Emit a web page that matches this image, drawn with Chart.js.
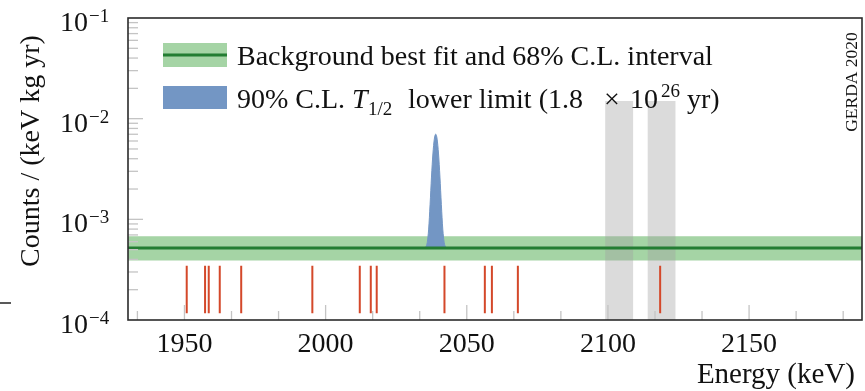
<!DOCTYPE html>
<html>
<head>
<meta charset="utf-8">
<script src="https://cdn.jsdelivr.net/npm/chart.js"></script>
<style>
  html, body { margin: 0; padding: 0; background: #fff; }
  #wrap { width: 865px; height: 391px; position: relative; }
</style>
</head>
<body>
<div id="wrap"><canvas id="chart"></canvas></div>
<script>
// axis ranges and tick labels
const xMin = 1930, xMax = 2190;
const yMin = 1e-4, yMax = 1e-1;
const xTickLabels = [1950, 2000, 2050, 2100, 2150];
const yTickValues = [1e-4, 1e-3, 1e-2, 1e-1];
const yTickExps = ["\u22124", "\u22123", "\u22122", "\u22121"];

// background best fit and 68% interval
const bgBest = 5.2e-4;
const bgBand = [3.9e-4, 6.8e-4];

// 90% C.L. signal on top of background
const peakEnergy = [2035, 2035.5, 2036, 2036.5, 2037, 2037.5, 2038, 2038.5, 2039,
  2039.5, 2040, 2040.5, 2041, 2041.5, 2042, 2042.5, 2043];
const peakCounts = [5.2e-4, 5.34e-4, 5.9e-4, 8.0e-4, 1.4e-3, 2.63e-3, 4.46e-3, 6.26e-3, 7.02e-3,
  6.26e-3, 4.46e-3, 2.63e-3, 1.4e-3, 8.0e-4, 5.9e-4, 5.34e-4, 5.2e-4];

// observed events (energies in keV)
const events = [1950.8, 1957.3, 1958.6, 1962.5, 1970.1, 1995.3, 2012.1, 2016.0,
  2018.1, 2042.1, 2056.4, 2058.9, 2068.1, 2118.5];
const eventLow = 1.17e-4, eventHigh = 3.45e-4;

// excluded windows
const excluded = [[2099, 2109], [2114, 2124]];
const excludedTop = 1.5e-2;

const serif = "'Liberation Serif', 'Times New Roman', serif";
const green = "rgb(35,125,50)";
const bandColor = "rgba(76,170,76,0.5)";
const blue = "rgb(115,150,196)";
const red = "rgb(212,72,42)";
const gray = "rgba(160,160,160,0.38)";

// event segments, separated by gaps
const eventPts = [];
events.forEach((e) => {
  eventPts.push({ x: e, y: eventLow }, { x: e, y: eventHigh }, { x: e, y: null });
});

const datasets = [
  {
    data: eventPts,
    borderColor: red,
    borderWidth: 2,
    pointRadius: 0,
    fill: false,
    spanGaps: false,
  },
  {
    data: [{ x: xMin, y: bgBest }, { x: xMax, y: bgBest }],
    borderColor: green,
    borderWidth: 3,
    pointRadius: 0,
    fill: false,
  },
  {
    data: peakEnergy.map((e, i) => ({ x: e, y: peakCounts[i] })),
    borderColor: blue,
    borderWidth: 1,
    backgroundColor: blue,
    pointRadius: 0,
    cubicInterpolationMode: "monotone",
    fill: { value: bgBest },
  },
];
excluded.forEach((w) => {
  datasets.push({
    data: [{ x: w[0], y: excludedTop }, { x: w[1], y: excludedTop }],
    borderWidth: 0,
    borderColor: "rgba(0,0,0,0)",
    backgroundColor: gray,
    pointRadius: 0,
    fill: { value: yMin },
  });
});
datasets.push({
  data: [{ x: xMin, y: bgBand[1] }, { x: xMax, y: bgBand[1] }],
  borderWidth: 0,
  borderColor: "rgba(0,0,0,0)",
  backgroundColor: bandColor,
  pointRadius: 0,
  fill: { value: bgBand[0] },
});

// frame, inner ticks and all the extra text
const decor = {
  id: "decor",
  afterDraw(chart) {
    const { ctx, chartArea: a } = chart;
    const x = chart.scales.x, y = chart.scales.y;
    ctx.save();

    // inner ticks
    ctx.strokeStyle = "#c4c4c4";
    ctx.lineWidth = 1.3;
    for (let k = -1; k <= 14; k++) {
      const v = xTickLabels[0] + (k * 50) / 3;
      if (v <= xMin || v >= xMax) continue;
      const px = x.getPixelForValue(v);
      const len = k % 3 === 0 ? 15 : 9;
      ctx.beginPath();
      ctx.moveTo(px, a.bottom);
      ctx.lineTo(px, a.bottom - len);
      ctx.stroke();
    }
    for (let d = 1e-4; d < yMax; d *= 10) {
      for (let m = 1; m <= 9; m++) {
        const v = d * m;
        if (v <= yMin || v >= yMax) continue;
        const py = y.getPixelForValue(v);
        const len = m === 1 ? 15 : 10;
        ctx.beginPath();
        ctx.moveTo(a.left, py);
        ctx.lineTo(a.left + len, py);
        ctx.stroke();
      }
    }

    // frame
    ctx.strokeStyle = "#2b2b2b";
    ctx.lineWidth = 1.6;
    ctx.strokeRect(a.left, a.top, a.right - a.left, a.bottom - a.top);

    // y tick labels with exponents
    ctx.fillStyle = "#111";
    yTickValues.forEach((v, i) => {
      const py = y.getPixelForValue(v);
      ctx.font = "28px " + serif;
      ctx.textAlign = "right";
      ctx.textBaseline = "alphabetic";
      ctx.fillText("10", 88, py + 13);
      ctx.font = "19px " + serif;
      ctx.textAlign = "left";
      ctx.fillText(yTickExps[i], 89, py + 4);
    });

    // y title
    ctx.save();
    ctx.translate(39, 151);
    ctx.rotate(-Math.PI / 2);
    ctx.font = "28px " + serif;
    ctx.textAlign = "center";
    ctx.fillText("Counts / (keV kg yr)", 0, 0);
    ctx.restore();

    // x title
    ctx.font = "29px " + serif;
    ctx.textAlign = "right";
    ctx.fillText("Energy (keV)", 855, 383);

    // GERDA tag
    ctx.save();
    ctx.translate(857, 82);
    ctx.rotate(-Math.PI / 2);
    ctx.font = "17.5px " + serif;
    ctx.textAlign = "center";
    ctx.fillText("GERDA 2020", 0, 0);
    ctx.restore();

    // legend
    ctx.fillStyle = bandColor;
    ctx.fillRect(163, 43, 64, 24);
    ctx.strokeStyle = green;
    ctx.lineWidth = 3;
    ctx.beginPath();
    ctx.moveTo(163, 55);
    ctx.lineTo(227, 55);
    ctx.stroke();
    ctx.fillStyle = blue;
    ctx.fillRect(163, 86, 64, 23);

    ctx.fillStyle = "#111";
    ctx.textAlign = "left";
    ctx.font = "28px " + serif;
    ctx.fillText("Background best fit and 68% C.L. interval", 237, 65, 481);
    ctx.fillText("90% C.L.", 237, 108);
    ctx.font = "italic 28px " + serif;
    ctx.fillText("T", 352, 108);
    ctx.font = "19px " + serif;
    ctx.fillText("1/2", 368, 115);
    ctx.font = "28px " + serif;
    ctx.fillText("lower limit (1.8", 408, 108);
    ctx.fillText("\u00d7", 604, 108);
    ctx.fillText("10", 630, 108);
    ctx.font = "19px " + serif;
    ctx.fillText("26", 661, 97);
    ctx.font = "28px " + serif;
    ctx.fillText("yr)", 687, 108);

    // stray mark at left edge
    ctx.strokeStyle = "#222";
    ctx.lineWidth = 1.5;
    ctx.beginPath();
    ctx.moveTo(0, 303);
    ctx.lineTo(11, 303);
    ctx.stroke();

    ctx.restore();
  },
};

new Chart(document.getElementById("chart"), {
  type: "line",
  data: { datasets },
  options: {
    responsive: true,
    maintainAspectRatio: false,
    animation: false,
    layout: { padding: { top: 18, right: 3, left: 0, bottom: 0 } },
    plugins: {
      legend: { display: false },
      tooltip: { enabled: false },
      filler: { propagate: false },
    },
    scales: {
      x: {
        type: "linear",
        min: xMin,
        max: xMax,
        grid: { display: false, drawTicks: false },
        border: { display: false },
        afterBuildTicks: (s) => {
          s.ticks = xTickLabels.map((v) => ({ value: v }));
        },
        afterFit: (s) => {
          s.height = 71;
        },
        ticks: {
          padding: 8,
          color: "#111",
          maxRotation: 0,
          font: { family: serif, size: 28 },
          callback: (v) => String(v),
        },
      },
      y: {
        type: "logarithmic",
        min: yMin,
        max: yMax,
        grid: { display: false, drawTicks: false },
        border: { display: false },
        ticks: { display: false },
        afterFit: (s) => {
          s.width = 128;
        },
      },
    },
  },
  plugins: [decor],
});
</script>
</body>
</html>
